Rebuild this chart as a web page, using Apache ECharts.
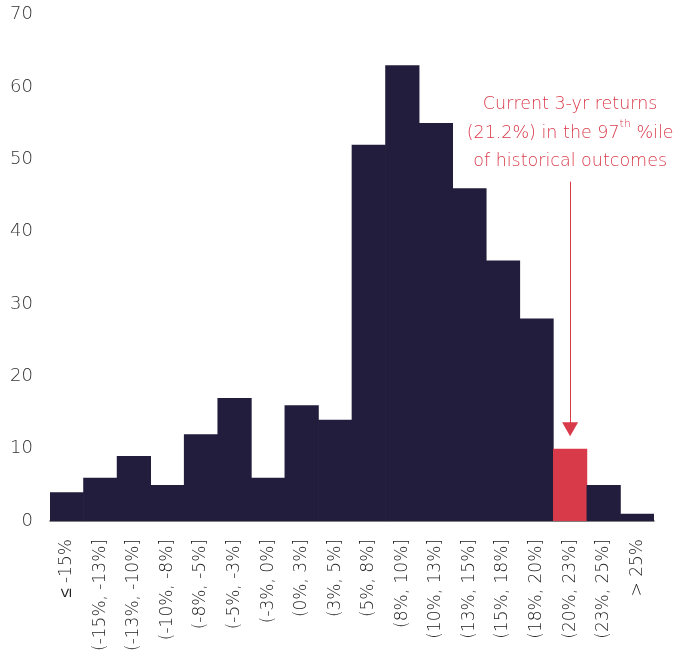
<!DOCTYPE html>
<html><head><meta charset="utf-8">
<script src="https://cdn.jsdelivr.net/npm/echarts@6/dist/echarts.min.js"></script>
<style>html,body{margin:0;padding:0;background:#fff}#c{width:674px;height:654px}</style>
</head><body><div id="c"></div>
<script>
var categories = ['≤ -15%','(-15%, -13%]','(-13%, -10%]','(-10%, -8%]','(-8%, -5%]','(-5%, -3%]','(-3%, 0%]','(0%, 3%]','(3%, 5%]','(5%, 8%]','(8%, 10%]','(10%, 13%]','(13%, 15%]','(15%, 18%]','(18%, 20%]','(20%, 23%]','(23%, 25%]','> 25%'];
var counts = [4, 6, 9, 5, 12, 17, 6, 16, 14, 52, 63, 55, 46, 36, 28, 10, 5, 1];
var highlightIndex = 15;
var arrowFrom = 46.9, arrowTo = 12.7, textAt = 53.6;
var FONT = '"DejaVu Sans", sans-serif';
var DARK = '#221d3c', RED = '#d93a4a';

var chart = echarts.init(document.getElementById('c'));
chart.setOption({
  animation: false,
  grid: {left: 50, right: 20, top: 14.5, bottom: 132},
  xAxis: {
    type: 'category', data: categories,
    axisTick: {show: false},
    axisLine: {lineStyle: {color: '#555', width: 1.5}},
    axisLabel: {rotate: 90, margin: 18, fontSize: 17, fontWeight: 200, color: '#222', fontFamily: FONT, interval: 0}
  },
  yAxis: {
    type: 'value', min: 0, max: 70, interval: 10,
    splitLine: {show: false}, axisLine: {show: false}, axisTick: {show: false},
    axisLabel: {margin: 17, fontSize: 18, fontWeight: 200, color: '#333', fontFamily: FONT}
  },
  series: [{
    type: 'bar', barWidth: '102%', z: 1,
    data: counts.map(function (v, i) {
      return {value: v, itemStyle: {color: i === highlightIndex ? RED : DARK}};
    }),
    markLine: {
      silent: true, symbol: ['none', 'triangle'], symbolSize: [16, 14],
      lineStyle: {color: RED, width: 1, type: 'solid'},
      label: {show: false},
      data: [[{coord: [highlightIndex, arrowFrom]}, {coord: [highlightIndex, arrowTo]}]]
    }
  }]
});
var p = chart.convertToPixel({seriesIndex: 0}, [highlightIndex, textAt]);
chart.setOption({
  graphic: [{
    type: 'text', x: p[0], y: p[1],
    style: {
      text: 'Current 3-yr returns\n(21.2%) in the 97{sup|th} %ile\nof historical outcomes',
      fill: RED, fontSize: 17.5, fontWeight: 200, fontFamily: FONT, align: 'center', verticalAlign: 'middle', lineHeight: 28.5,
      rich: {sup: {fontSize: 11, fontWeight: 200, fill: RED, verticalAlign: 'top', lineHeight: 20, fontFamily: FONT}}
    }
  }]
});
</script></body></html>
